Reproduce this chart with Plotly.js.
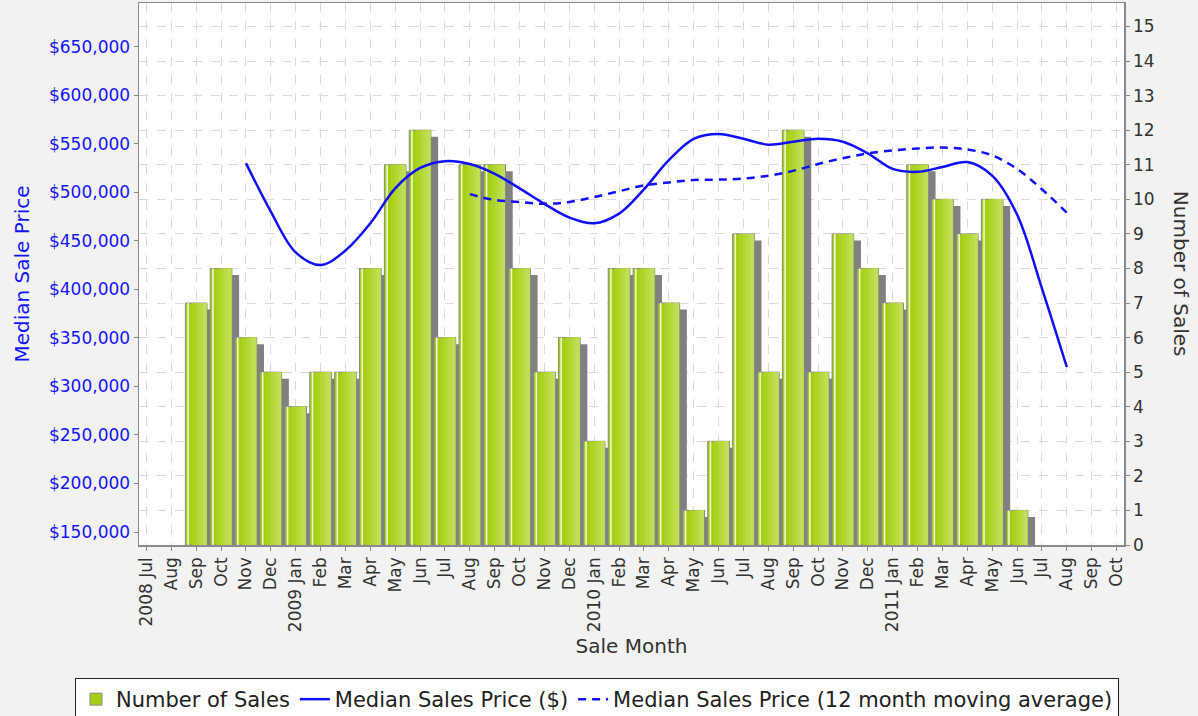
<!DOCTYPE html>
<html>
<head>
<meta charset="utf-8">
<script src="https://cdn.plot.ly/plotly-3.0.1.min.js"></script>
<style>
  html, body { margin: 0; padding: 0; background: #f2f2f2; }
  #chart { width: 1198px; height: 716px; }
</style>
</head>
<body>
<div id="chart"></div>
<script>
const months = [
  "2008-07","2008-08","2008-09","2008-10","2008-11","2008-12",
  "2009-01","2009-02","2009-03","2009-04","2009-05","2009-06",
  "2009-07","2009-08","2009-09","2009-10","2009-11","2009-12",
  "2010-01","2010-02","2010-03","2010-04","2010-05","2010-06",
  "2010-07","2010-08","2010-09","2010-10","2010-11","2010-12",
  "2011-01","2011-02","2011-03","2011-04","2011-05","2011-06",
  "2011-07","2011-08","2011-09","2011-10"
];
const monthLabels = [
  "2008 Jul","Aug","Sep","Oct","Nov","Dec",
  "2009 Jan","Feb","Mar","Apr","May","Jun",
  "Jul","Aug","Sep","Oct","Nov","Dec",
  "2010 Jan","Feb","Mar","Apr","May","Jun",
  "Jul","Aug","Sep","Oct","Nov","Dec",
  "2011 Jan","Feb","Mar","Apr","May","Jun",
  "Jul","Aug","Sep","Oct"
];
const salesCount = [
  null, null, 7, 8, 6, 5,
  4, 5, 5, 8, 11, 12,
  6, 11, 11, 8, 5, 6,
  3, 8, 8, 7, 1, 3,
  9, 5, 12, 5, 9, 8,
  7, 11, 10, 9, 10, 1,
  null, null, null, null
];
const medianPrice = [
  null, null, null, null, 530000, 480000,
  438000, 425000, 440000, 468000, 504000, 525000,
  532000, 529000, 519000, 504000, 488000, 474000,
  468000, 478000, 503000, 533000, 555000, 560000,
  555000, 549000, 552000, 555000, 552000, 540000,
  524000, 521000, 526000, 531000, 517000, 477000,
  401000, 320000, null, null
];
const movingAvgPrice = [
  null, null, null, null, null, null,
  null, null, null, null, null, null,
  null, 498000, 492000, 490000, 488000, 490000,
  495000, 501000, 507000, 510000, 512500, 513000,
  514000, 517000, 522000, 529000, 535000, 540000,
  543000, 545000, 546000, 544000, 538000, 524000,
  503000, 479000, null, null
];

const FONT = "DejaVu Sans, Verdana, sans-serif";
const BAR_W = 0.87;

const shadow = {
  type: "bar", x: months, y: salesCount, base: -0.19,
  width: BAR_W, offset: -BAR_W / 2 + 0.29,
  marker: { color: "#808080", line: { width: 0 } },
  showlegend: false, hoverinfo: "skip", yaxis: "y"
};
const bars = {
  type: "bar", name: "Number of Sales", x: months, y: salesCount,
  width: BAR_W, offset: -BAR_W / 2,
  marker: { color: "#a4cf12", line: { color: "#8a8a8a", width: 1 } },
  yaxis: "y"
};
// gradient-like shading stripes drawn over each bar (same data, style only)
function stripe(f0, f1, color) {
  return {
    type: "bar", x: months, y: salesCount,
    width: (f1 - f0) * BAR_W, offset: -BAR_W / 2 + f0 * BAR_W,
    marker: { color: color, line: { width: 0 } },
    showlegend: false, hoverinfo: "skip", yaxis: "y"
  };
}
const stripes = [
  stripe(0.30, 0.975, "#abd322"),
  stripe(0.48, 0.975, "#b2d733"),
  stripe(0.64, 0.975, "#b9db45"),
  stripe(0.80, 0.975, "#c0df58"),
  stripe(0.09, 0.16, "#f2f9dc")
];
const median = {
  type: "scatter", mode: "lines", name: "Median Sales Price ($)",
  x: months, y: medianPrice, yaxis: "y2",
  line: { color: "#1010ff", width: 2.5, shape: "spline", smoothing: 1 },
  connectgaps: false
};
const movAvg = {
  type: "scatter", mode: "lines", name: "Median Sales Price (12 month moving average)",
  x: months, y: movingAvgPrice, yaxis: "y2",
  line: { color: "#1010ff", width: 2.5, shape: "spline", smoothing: 1, dash: "8px,6px" }
};

const layout = {
  width: 1198, height: 716,
  paper_bgcolor: "#f2f2f2", plot_bgcolor: "#ffffff",
  font: { family: FONT, color: "#333333", size: 17 },
  margin: { l: 139, r: 74, t: 3, b: 171, pad: 0, autoexpand: false },
  barmode: "overlay",
  showlegend: true,
  xaxis: {
    type: "category", range: [-0.3, 39.3],
    tickmode: "array", tickvals: months, ticktext: monthLabels,
    tickangle: -90, tickfont: { size: 17, color: "#333333" },
    ticks: "outside", ticklen: 4, tickcolor: "#8a8a8a",
    showgrid: true, gridcolor: "#d9d9d9", griddash: "dash", gridwidth: 1,
    showline: true, linecolor: "#8a8a8a", linewidth: 1.5, mirror: true,
    zeroline: false,
    title: { text: "Sale Month", font: { size: 20, color: "#333333" }, standoff: 8 }
  },
  yaxis: {
    side: "right", range: [0, 15.68], dtick: 1, tick0: 0,
    tickfont: { size: 17, color: "#333333" },
    ticks: "outside", ticklen: 4, tickcolor: "#8a8a8a",
    showgrid: true, gridcolor: "#d9d9d9", griddash: "dash", gridwidth: 1,
    showline: true, linecolor: "#8a8a8a", linewidth: 1.5, mirror: true,
    zeroline: false
  },
  yaxis2: {
    overlaying: "y", side: "left", range: [136700, 694850],
    tick0: 150000, dtick: 50000, tickprefix: "$", tickformat: ",d",
    tickfont: { size: 17, color: "#1414ff" },
    ticks: "outside", ticklen: 4, tickcolor: "#8a8a8a",
    showgrid: false, zeroline: false,
    showline: true, linecolor: "#8a8a8a", linewidth: 1.5,
    title: { text: "Median Sale Price", font: { size: 20, color: "#1414ff" }, standoff: 14 }
  },
  legend: {
    orientation: "h", xref: "paper", yref: "paper",
    x: -0.065, xanchor: "left", y: -0.2454, yanchor: "top",
    bgcolor: "#ffffff", bordercolor: "#222222", borderwidth: 1,
    font: { size: 21, color: "#222222" },
    traceorder: "normal", itemwidth: 30
  },
  annotations: [{
    text: "Number of Sales", xref: "paper", yref: "paper",
    x: 1.058, y: 0.5, xanchor: "center", yanchor: "middle",
    textangle: 90, showarrow: false,
    font: { size: 20, color: "#333333" }
  }]
};

Plotly.newPlot("chart", [shadow, bars].concat(stripes, [median, movAvg]), layout, { displayModeBar: false, staticPlot: true });
</script>
</body>
</html>
